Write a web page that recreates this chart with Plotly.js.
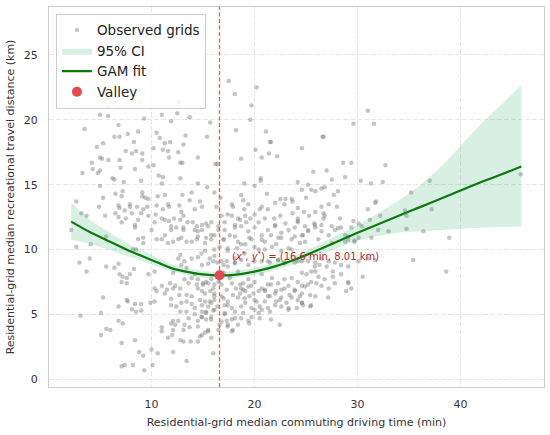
<!DOCTYPE html>
<html>
<head>
<meta charset="utf-8">
<script src="https://cdn.plot.ly/plotly-3.0.1.min.js"></script>
<style>html,body{margin:0;padding:0;background:#fff;}#chart{width:550px;height:435px;}</style>
</head>
<body>
<div id="chart"></div>
<script>
// Observed grids: [commuting time (min), recreational distance (km)]
const observedGrids = [
[5.5,21.6],[6.4,21.3],[5.8,21.0],[8.9,21.4],[12.7,21.4],[5.0,20.4],[5.8,20.3],[9.3,20.1],[11.0,20.4],[11.9,19.9],[12.5,20.5],[13.7,20.2],[15.7,19.8],[3.5,19.3],[6.8,19.6],[6.4,18.7],[6.9,18.7],[7.7,18.9],[8.7,19.1],[10.5,19.0],[10.8,18.6],[11.8,18.3],[11.3,18.2],[13.3,18.8],[15.4,18.7],[8.3,18.3],[5.3,18.2],[4.7,17.9],[7.5,17.6],[8.1,17.4],[8.5,17.6],[9.1,17.4],[10.2,17.8],[11.1,17.7],[11.6,17.6],[12.6,17.5],[13.1,18.1],[5.0,17.1],[5.8,16.9],[5.2,17.0],[6.9,16.9],[9.1,16.9],[9.7,16.4],[10.2,16.5],[11.7,17.1],[12.8,16.7],[13.0,16.7],[14.5,17.1],[16.4,16.6],[4.2,16.7],[4.3,16.2],[5.0,16.1],[4.8,15.9],[3.3,15.9],[7.0,16.3],[8.4,16.2],[6.2,15.5],[6.4,15.4],[7.3,15.2],[9.0,15.3],[10.7,15.7],[11.1,15.6],[11.0,15.1],[12.8,15.5],[14.5,15.1],[15.4,14.8],[5.0,14.9],[5.3,14.0],[6.5,14.3],[7.2,14.5],[7.1,14.1],[9.1,14.4],[9.1,14.1],[9.4,14.0],[9.7,13.9],[10.6,14.1],[11.3,14.2],[11.6,13.5],[13.0,14.2],[13.7,13.8],[14.7,13.7],[14.9,13.3],[16.1,14.4],[13.9,14.4],[2.7,13.7],[4.9,13.3],[6.8,13.4],[6.9,13.2],[7.9,13.5],[7.9,13.3],[7.4,13.0],[8.6,13.3],[9.2,13.1],[9.6,13.3],[10.5,13.4],[11.1,13.1],[11.7,13.3],[12.7,13.4],[12.9,12.9],[14.2,13.1],[3.2,12.8],[3.7,12.6],[5.5,12.6],[6.5,12.8],[6.8,12.5],[7.5,12.4],[8.1,12.8],[8.7,12.3],[9.0,12.8],[9.7,12.6],[10.4,12.7],[11.0,12.4],[11.3,12.3],[12.2,12.4],[12.8,12.3],[13.1,12.6],[13.5,12.1],[14.0,12.1],[14.4,11.8],[14.9,11.9],[15.3,12.0],[15.8,12.1],[11.7,12.2],[10.3,12.1],[7.1,12.1],[8.4,11.9],[11.9,11.8],[13.1,11.7],
[2.2,11.5],[2.7,10.2],[4.1,10.4],[5.6,11.0],[8.4,11.7],[8.7,10.8],[9.2,10.9],[8.2,10.0],[8.5,10.0],[9.2,10.5],[10.0,11.5],[10.5,10.8],[11.0,10.8],[11.3,11.1],[11.6,10.5],[12.1,10.6],[12.6,10.8],[12.9,10.9],[13.4,10.6],[13.9,10.6],[14.4,10.8],[14.5,11.4],[14.9,11.5],[15.3,10.9],[15.8,10.8],[16.1,11.1],[16.5,11.5],[11.9,11.5],[12.4,11.7],[13.1,11.5],[14.2,11.5],[15.5,11.8],
[3.0,9.0],[3.7,8.3],[4.0,9.3],[5.6,8.7],[6.4,8.6],[6.8,8.9],[6.9,8.1],[7.2,7.9],[7.6,7.8],[7.9,8.1],[8.3,8.5],[7.1,7.5],[7.6,7.4],[9.7,8.1],[10.3,8.3],[12.1,8.2],[12.8,9.6],[12.6,9.3],[13.2,9.1],[12.9,8.8],[13.4,8.6],[13.9,9.3],[14.5,9.4],[14.9,8.8],[15.5,8.9],[16.0,9.1],[16.1,9.5],[15.2,9.9],[16.4,9.0],[14.2,8.1],[13.9,7.8],
[10.3,7.0],[10.5,6.8],[11.0,7.2],[11.5,6.9],[11.8,7.4],[12.1,7.0],[12.3,7.2],[12.8,7.0],[13.2,7.7],[13.6,7.4],[14.4,7.3],[14.5,7.0],[15.0,7.4],[15.3,7.5],[15.8,7.7],[16.1,7.3],[16.5,7.5],[14.9,6.8],[15.7,6.8],[16.1,6.6],[13.4,6.5],[13.9,6.4],[12.7,6.5],[11.9,6.2],[11.3,6.6],
[5.3,6.3],[7.6,6.1],[7.7,6.0],[8.4,5.8],[9.0,5.8],[9.9,5.9],[10.3,6.0],[6.8,5.6],[8.1,5.4],[8.5,5.2],[9.0,5.3],[11.9,5.7],[12.4,5.6],[12.9,5.9],[13.4,6.0],[13.9,5.8],[14.2,5.5],[14.9,5.7],[15.2,6.0],[15.5,5.6],[15.8,5.9],[16.1,6.1],[14.9,5.2],[15.3,5.1],[16.0,5.3],[16.4,5.6],[12.8,5.2],[13.4,5.2],
[3.1,4.9],[5.1,5.1],[6.8,4.5],[7.2,4.3],[5.6,3.9],[6.0,3.8],[5.1,3.4],[11.0,4.0],[11.0,3.7],[11.9,4.3],[12.1,4.5],[12.3,4.2],[12.6,4.5],[13.2,4.2],[13.6,4.7],[14.2,5.0],[14.9,4.8],[15.3,4.6],[15.8,4.8],[14.5,4.5],[12.1,3.8],[12.0,3.4],[13.1,3.8],[13.7,4.0],[14.9,3.4],[15.2,3.6],[15.5,3.7],
[7.1,2.8],[8.4,3.0],[11.6,3.2],[12.8,3.0],[13.1,2.9],[13.8,2.9],[14.5,2.9],[16.0,2.0],[8.8,2.1],[9.2,1.8],[10.0,2.3],[10.6,2.0],[12.1,2.1],[13.4,1.4],[7.1,1.0],[8.2,1.1],[9.3,0.7],[10.1,1.1],[7.4,1.1],
[17.5,23.0],[18.1,22.0],[20.2,22.5],[19.7,21.1],[19.6,20.0],[18.2,19.2],[21.1,19.1],[21.5,18.3],[21.6,18.3],[20.1,17.7],[18.7,17.0],[20.7,17.1],[21.4,17.4],[22.2,17.2],[24.6,17.8],[26.6,18.7],[26.7,18.7],[28.6,16.7],[29.4,16.7],[29.6,19.7],[31.0,20.7],[31.6,19.7],[16.2,16.6],[25.7,16.0],[27.0,16.1],[27.5,15.4],[28.8,15.6],[30.3,15.3],[31.3,15.1],[20.6,15.5],[20.6,15.3],[19.0,15.1],[20.0,14.9],[16.7,14.0],[18.7,14.2],[18.9,13.8],[17.8,13.5],[17.9,13.3],[19.4,13.5],[21.2,14.3],[22.5,13.9],[23.0,13.9],[23.6,13.9],[23.7,13.7],[25.0,14.0],[25.2,15.0],[25.5,14.6],[25.9,14.5],[24.6,14.6],[24.2,15.2],[26.5,14.7],[26.8,14.8],[27.7,14.2],[28.1,14.5],
[22.0,13.6],[22.9,13.5],[20.7,13.3],[21.3,13.1],[20.5,13.1],[19.0,13.1],[16.3,13.3],[16.8,12.6],[17.4,12.7],[17.8,12.6],[18.4,12.4],[18.6,12.3],[19.1,12.6],[19.6,12.4],[20.0,12.7],[20.4,12.1],[21.0,12.4],[21.9,12.4],[22.5,12.6],[23.7,12.8],[24.2,13.2],[24.8,12.9],[25.3,12.6],[25.9,12.9],[26.5,13.3],[26.7,12.8],[26.8,12.6],[27.2,13.5],[28.0,13.3],[28.3,12.4],[29.4,11.7],[30.1,12.0],[31.0,13.1],[17.1,12.1],[18.1,11.9],[19.2,12.1],[22.0,11.9],[23.0,12.0],[24.2,12.1],[25.8,12.0],[26.5,11.9],[27.5,11.8],[24.2,12.4],[24.9,11.8],
[16.5,11.8],[17.1,11.5],[17.6,11.1],[18.1,11.7],[18.7,11.8],[19.4,11.4],[20.0,11.7],[20.7,11.1],[21.3,11.5],[22.0,11.8],[22.6,11.3],[23.3,11.5],[23.9,11.7],[24.6,11.1],[25.2,11.4],[25.9,11.7],[26.5,11.4],[27.2,11.1],[27.8,11.5],[28.4,11.7],[29.1,11.0],[30.1,10.9],
[17.0,10.8],[18.4,10.6],[19.7,10.8],[21.0,10.6],[22.3,10.9],[23.6,10.8],[24.9,10.6],[26.2,10.8],[27.5,10.5],[28.8,10.6],[29.7,10.7],
[16.6,10.2],[17.4,9.9],[18.3,10.1],[19.1,10.4],[20.4,10.0],[21.7,10.2],[22.6,9.9],[23.6,10.0],[18.1,9.3],[17.0,8.8],[21.3,9.1],
[16.8,9.1],[17.4,8.7],[18.1,9.0],[18.7,9.2],[19.4,8.8],[20.0,9.1],[20.7,9.1],[21.5,9.0],[22.3,9.2],[22.9,9.0],[23.9,9.0],[24.6,9.1],[25.2,9.1],[25.9,9.0],[26.5,9.3],[27.2,9.1],[27.8,9.0],[28.4,8.8],[29.1,8.7],[30.1,9.1],[31.0,9.3],[31.7,9.2],
[17.0,8.2],[17.6,7.8],[18.4,8.3],[18.6,7.3],[18.7,7.0],[18.9,7.4],[19.1,6.8],[19.4,7.7],[19.7,7.2],[20.0,7.5],[20.4,6.8],[20.7,8.1],[21.0,6.9],[21.3,7.3],[21.7,7.8],[22.0,6.6],[22.3,7.4],[22.6,6.9],[22.9,7.7],[23.3,7.2],[23.6,7.8],[23.9,6.8],[24.2,7.5],[24.6,7.2],[25.05,8.1],[25.5,7.5],[26.2,7.9],[26.8,7.7],[27.2,7.0],[27.8,7.4],[28.4,8.1],[29.1,7.5],[29.4,7.0],[27.6,8.3],[25.9,8.3],[26.5,7.2],
[16.8,6.4],[17.4,6.0],[17.9,6.5],[18.4,6.3],[19.1,5.9],[19.5,6.4],[20.0,6.1],[20.5,5.6],[21.0,6.0],[21.5,6.4],[22.1,6.0],[22.6,6.3],[23.1,5.9],[23.6,6.3],[24.2,6.1],[24.7,5.7],[25.4,5.6],[25.9,6.4],[23.3,5.5],[21.3,5.5],[20.0,5.35],[17.8,5.5],[17.1,5.7],
[17.1,5.0],[18.1,4.7],[18.9,5.1],[19.4,4.5],[19.7,4.8],[20.4,5.1],[16.6,4.2],[17.4,4.2],[17.8,3.7],[17.9,3.8],[17.3,4.5],[18.4,4.2],
[14.5,11.0],[15.2,10.5],[15.8,11.1],[14.85,9.7],[15.65,9.3],[16.1,10.0],[17.0,10.75],[17.4,10.1],[17.3,9.1],[18.1,11.0],[18.7,10.4],[19.05,9.7],[19.5,10.9],[20.0,10.2],[20.7,10.75],[21.0,10.0],[21.6,11.1],[22.1,10.4],[22.6,10.9],[23.3,10.1],[23.9,11.0],[24.4,10.5],[18.1,8.95],[22.3,9.2],[22.9,8.95],
[14.5,7.7],[15.0,7.3],[15.5,7.4],[16.0,7.0],[15.2,6.6],[14.7,6.1],[15.65,6.0],[16.1,6.4],[16.8,7.3],[17.3,6.9],[17.0,6.25],[17.4,5.7],[17.8,7.4],[18.2,7.0],[18.6,6.6],[18.9,6.9],[19.05,6.25],[19.4,7.15],[19.9,6.6],[20.2,6.0],[20.7,7.0],[21.0,6.8],[21.3,6.4],[21.6,7.3],[22.1,6.8],[22.45,6.1],[22.9,7.0],[23.4,6.5],[23.9,6.9],[24.4,6.4],[24.6,5.9],[24.1,5.5],[23.3,5.35],[22.6,5.6],[22.0,5.7],[21.5,5.2],[20.7,5.35],[19.7,5.5],[18.7,5.6],[18.1,5.2],[17.1,5.1],[16.1,5.35],[15.3,5.2],[14.85,4.8],[15.8,4.6],[16.8,4.45],[17.8,4.6],[18.7,4.7],[19.5,4.3],[20.5,4.7],[21.6,4.6],[22.45,4.2],[14.5,4.06],[15.5,3.8],[16.5,3.8],[17.4,4.06],[14.7,3.3],[15.8,3.2],
[24.2,12.2],[25.2,11.5],[24.7,11.1],[25.85,11.9],[26.7,12.4],[28.1,11.65],[28.8,11.1],[29.6,12.2],[30.4,11.8],[31.2,12.3],[32.0,11.5],[29.1,10.75],[29.7,10.6],[31.35,10.9],[33.0,11.4],[34.75,11.6],[36.4,11.4],[35.4,9.2],[30.5,7.9],[27.6,7.9],[29.1,7.4],[27.15,6.3],[28.9,6.8],[25.5,5.7],[24.6,5.9],[26.3,8.8],[27.0,8.7],[25.85,8.7],[25.5,8.3],[24.6,8.2],[24.2,9.1],[25.2,7.3],[26.0,7.4],[24.9,7.15],[24.6,6.6],[25.4,6.5],
[38.9,10.9],[38.6,8.3],[32.7,16.5],[37.0,15.3],[35.2,14.4],[37.2,13.1],[34.6,13.0],[34.75,12.6],[45.85,15.8],[31.8,13.7],[32.45,15.2],[31.7,13.6],[32.2,12.6]
];
const obsX = observedGrids.map(p => p[0]);
const obsY = observedGrids.map(p => p[1]);

// GAM fit and 95% CI
const fitX  = [2.2, 4, 6, 8, 10, 12, 14, 15, 16.6, 18, 20, 22, 24, 26, 28, 30, 32, 34, 36, 38, 40, 42, 44, 45.9];
const fitY  = [12.15, 11.35, 10.6, 9.85, 9.2, 8.55, 8.2, 8.08, 8.01, 8.05, 8.3, 8.7, 9.25, 9.9, 10.6, 11.3, 11.95, 12.6, 13.25, 13.9, 14.55, 15.2, 15.8, 16.4];
const ciLow = [10.75, 10.45, 9.95, 9.4, 8.85, 8.3, 7.95, 7.85, 7.75, 7.8, 8.05, 8.4, 8.9, 9.5, 10.1, 10.7, 11.05, 11.3, 11.4, 11.5, 11.6, 11.68, 11.74, 11.78];
const ciUp  = [13.6, 12.3, 11.3, 10.35, 9.6, 8.85, 8.5, 8.35, 8.28, 8.32, 8.6, 9.0, 9.6, 10.3, 11.1, 11.9, 12.8, 13.8, 14.9, 16.3, 18.0, 19.7, 21.2, 22.7];

const valleyX = [16.6];
const valleyY = [8.01];

const xRange = [0.05, 48.1];
const yRange = [-0.6, 28.7];
const xTicks = [10, 20, 30, 40];
const yTicks = [0, 5, 10, 15, 20, 25];

const FONT = '"DejaVu Sans", "Liberation Sans", sans-serif';

const traces = [
  {
    x: obsX, y: obsY, type: 'scatter', mode: 'markers', name: 'Observed grids',
    marker: {size: 4.5, color: 'rgba(115,115,115,0.42)', line: {width: 0}},
    hoverinfo: 'skip'
  },
  {
    x: fitX, y: ciLow, type: 'scatter', mode: 'lines', showlegend: false,
    line: {width: 0, color: 'rgba(0,0,0,0)', shape: 'spline', smoothing: 0.6},
    hoverinfo: 'skip'
  },
  {
    x: fitX, y: ciUp, type: 'scatter', mode: 'lines', name: '95% CI',
    fill: 'tonexty', fillcolor: 'rgba(60,179,113,0.2)',
    line: {width: 0, color: 'rgba(0,0,0,0)', shape: 'spline', smoothing: 0.6},
    hoverinfo: 'skip'
  },
  {
    x: [valleyX[0], valleyX[0]], y: yRange, type: 'scatter', mode: 'lines', showlegend: false,
    line: {width: 1.3, color: '#f05a5a', dash: '4px,2.5px'},
    hoverinfo: 'skip'
  },
  {
    x: fitX, y: fitY, type: 'scatter', mode: 'lines', name: 'GAM fit',
    line: {width: 2.2, color: '#0b7a0b', shape: 'spline', smoothing: 0.6},
    hoverinfo: 'skip'
  },
  {
    x: valleyX, y: valleyY, type: 'scatter', mode: 'markers', name: 'Valley',
    marker: {size: 10, color: '#e5484d', line: {width: 0}},
    hoverinfo: 'skip'
  }
];

const axisCommon = {
  showgrid: true, gridcolor: '#e6e6e6', gridwidth: 1, griddash: '5px,2px',
  zeroline: false, showline: true, mirror: true, linecolor: '#cccccc', linewidth: 1,
  ticks: 'outside', tickcolor: 'rgba(0,0,0,0)',
  tickfont: {family: FONT, size: 11, color: '#333333'},
  showspikes: false
};

const layout = {
  width: 550, height: 435,
  margin: {l: 49, r: 6, t: 7, b: 48},
  paper_bgcolor: '#ffffff', plot_bgcolor: '#ffffff',
  font: {family: FONT, size: 11, color: '#333333'},
  showlegend: true,
  hovermode: false,
  legend: {
    x: 0.014, y: 0.982, xanchor: 'left', yanchor: 'top',
    traceorder: 'normal',
    bgcolor: 'rgba(255,255,255,0.85)', bordercolor: '#cccccc', borderwidth: 1,
    font: {family: FONT, size: 13.5, color: '#222222'},
    tracegroupgap: 0
  },
  xaxis: Object.assign({}, axisCommon, {
    range: xRange, tickmode: 'array', tickvals: xTicks, ticktext: xTicks.map(String),
    ticklen: 7,
    title: {text: 'Residential-grid median commuting driving time (min)', font: {family: FONT, size: 11, color: '#333333'}, standoff: 8}
  }),
  yaxis: Object.assign({}, axisCommon, {
    range: yRange, tickmode: 'array', tickvals: yTicks, ticktext: yTicks.map(String),
    ticklen: 8,
    title: {text: 'Residential-grid median recreational travel distance (km)', font: {family: FONT, size: 11, color: '#333333'}, standoff: 6}
  }),
  annotations: [{
    xref: 'x', yref: 'y', x: 17.6, y: 9.5, xanchor: 'left', yanchor: 'middle', showarrow: false,
    text: '(<i>x</i><sup>*</sup>, <i>y</i><sup>*</sup>) = (16.6 min, 8.01 km)',
    font: {family: FONT, size: 10, color: '#b82626'}
  }]
};

Plotly.newPlot('chart', traces, layout, {displayModeBar: false, staticPlot: true});
</script>
</body>
</html>
